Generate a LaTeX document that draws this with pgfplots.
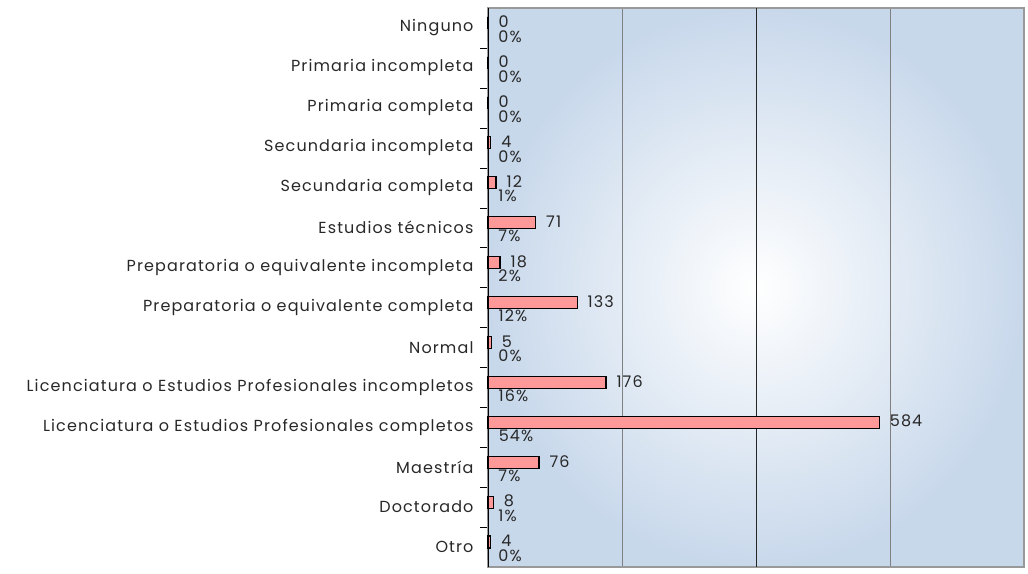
\documentclass[border=0pt]{standalone}
\usepackage{pgfplots}
\pgfplotsset{compat=1.18}
\usepackage{fontspec}
\setmainfont{Poppins}[LetterSpace=7]
\definecolor{barpink}{RGB}{255,153,153}
\definecolor{bgblue}{RGB}{200,216,235}
\definecolor{txt}{RGB}{40,40,40}
\begin{document}
\begin{tikzpicture}
\begin{axis}[
  scale only axis,
  width=536bp, height=559bp,
  xbar, bar width=12bp,
  xmin=0, xmax=800,
  ymin=-0.5, ymax=13.5,
  y dir=reverse,
  ytick={0,...,13},
  ytick pos=left,
  yticklabels={Ninguno,Primaria incompleta,Primaria completa,Secundaria incompleta,Secundaria completa,Estudios técnicos,Preparatoria o equivalente incompleta,Preparatoria o equivalente completa,Normal,Licenciatura o Estudios Profesionales incompletos,Licenciatura o Estudios Profesionales completos,Maestría,Doctorado,Otro},
  yticklabel style={font=\fontsize{16bp}{18bp}\selectfont, text=txt, xshift=-11bp},
  major tick length=0pt,
  minor ytick={0.5,1.5,...,12.5},
  minor tick length=8bp,
  tick align=outside,
  tick style={black},
  xtick={200,600},
  xticklabels={},
  extra x ticks={400},
  extra x tick labels={},
  extra x tick style={major grid style={black!85, line width=1pt}},
  xmajorgrids,
  major grid style={gray, line width=1pt},
  axis line style={gray!80, line width=1.2pt},
  axis background/.style={inner color=white, outer color=bgblue},
  clip=false,
  every node near coord/.append style={font=\fontsize{16bp}{18bp}\selectfont, text=txt, anchor=west, inner sep=0pt, xshift=10bp},
]
\addplot[fill=barpink, draw=black, line width=1.2pt, bar shift=5bp,
  nodes near coords, point meta=explicit symbolic,
  every node near coord/.append style={yshift=1bp}]
  table[meta=l] {
x y l
0 0 0
0 1 0
0 2 0
4 3 4
12 4 12
71 5 71
18 6 18
133 7 133
5 8 5
176 9 176
584 10 584
76 11 76
8 12 8
4 13 4
};
\addplot[fill=black, draw=black, line width=0.9pt, bar shift=-7bp,
  nodes near coords, point meta=explicit symbolic,
  every node near coord/.append style={yshift=-1.5bp}]
  table[meta=l] {
x y l
0 0 0\%
0 1 0\%
0 2 0\%
0.0037 3 0\%
0.011 4 1\%
0.065 5 7\%
0.016 6 2\%
0.122 7 12\%
0.0046 8 0\%
0.161 9 16\%
0.535 10 54\%
0.07 11 7\%
0.0073 12 1\%
0.0037 13 0\%
};
\draw[black, line width=1pt] (rel axis cs:0,0) -- (rel axis cs:0,1);
\end{axis}
\path[use as bounding box] ([shift={(-488bp,0)}]current axis.south west) rectangle ([shift={(4bp,8bp)}]current axis.north east);
\end{tikzpicture}
\end{document}
